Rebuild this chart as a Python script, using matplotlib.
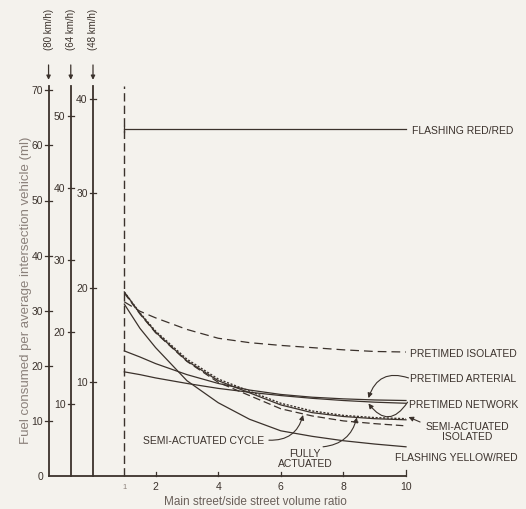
import numpy as np
import matplotlib.pyplot as plt

# main street / side street volume ratio where the curves were read
ratio = [1, 1.5, 2, 3, 4, 5, 6, 7, 8, 9, 10]

# fuel consumed (80 km/h scale)
flashing_red_red = [63.0, 63.0, 63.0, 63.0, 63.0, 63.0, 63.0, 63.0, 63.0, 63.0, 63.0]
pretimed_isolated = [31.6, 29.9, 28.7, 26.6, 25.0, 24.2, 23.7, 23.3, 22.9, 22.6, 22.5]
pretimed_arterial = [22.7, 21.6, 20.4, 18.4, 16.8, 15.6, 14.8, 14.3, 14.0, 13.8, 13.7]
pretimed_network = [18.9, 18.4, 17.8, 16.8, 15.9, 15.2, 14.6, 14.1, 13.7, 13.4, 13.2]
semi_act_isolated = [33.4, 29.6, 26.3, 21.2, 17.6, 15.4, 13.2, 11.8, 11.0, 10.6, 10.4]
semi_act_cycle = [33.4, 29.5, 26.1, 20.9, 17.3, 15.1, 12.9, 11.5, 10.8, 10.4, 10.2]
fully_actuated = [33.2, 29.4, 26.0, 20.8, 17.0, 14.6, 12.2, 10.9, 10.0, 9.5, 9.1]
flashing_yellow_red = [31.2, 26.8, 23.3, 17.3, 13.3, 10.3, 8.2, 7.2, 6.4, 5.8, 5.3]

# speed scales of the nomograph on the left
speed_labels = ['(80 km/h)', '(64 km/h)', '(48 km/h)']
scale_x = [-1.42, -0.71, 0.0]
scale_ticks = [[0, 10, 20, 30, 40, 50, 60, 70],
               [10, 20, 30, 40, 50],
               [10, 20, 30, 40]]
scale_factor = [1.0, 1.307, 1.71]

xticks = [2, 4, 6, 8, 10]

bg = '#f4f2ed'
ink = '#3b322c'
plt.rcParams['font.family'] = ['Liberation Sans', 'DejaVu Sans']

fig = plt.figure(figsize=(5.26, 5.10), dpi=100)
fig.patch.set_facecolor(bg)
ax = fig.add_axes([0, 0, 1, 1])
ax.set_facecolor(bg)
# pixel layout: x=0 at 93px, 31.3 px per unit; y=0 at 477px, 5.51 px per unit
ax.set_xlim(-93 / 31.3, (526 - 93) / 31.3)
ax.set_ylim(-33 / 5.51, 477 / 5.51)
ax.axis('off')

# nomograph scales
for i in range(3):
    x = scale_x[i]
    ax.plot([x, x], [0, 70.8], color=ink, lw=1.3)
    ax.annotate('', xy=(x, 71.9), xytext=(x, 74.6),
                arrowprops=dict(arrowstyle='-|>', color=ink, lw=0.9,
                                mutation_scale=6, shrinkA=0, shrinkB=0))
    ax.text(x, 81.3, speed_labels[i], rotation=90, ha='center', va='center',
            fontsize=7, color=ink)
    for t in scale_ticks[i]:
        y = t * scale_factor[i]
        if t > 0:
            ax.plot([x - 0.1, x + 0.1], [y, y], color=ink, lw=0.9)
        ax.text(x - 0.17, y, str(t), ha='right', va='center', fontsize=7.5, color=ink)

# bottom axis
ax.plot([scale_x[0], 10], [0, 0], color=ink, lw=1.3)
for t in xticks:
    h = 1.1 if t == 10 else 0.7
    ax.plot([t, t], [0, h], color=ink, lw=0.9)
    ax.text(t, -1.85, str(t), ha='center', va='center', fontsize=7.5, color=ink)
ax.text(1, -1.85, '1', ha='center', va='center', fontsize=5.5, color='#8a8079')
ax.text(5.2, -4.5, 'Main street/side street volume ratio', ha='center', va='center',
        fontsize=8.5, color='#6a605a')
ax.text(-2.13, 33.9, 'Fuel consumed per average intersection vehicle (ml)', rotation=90,
        ha='center', va='center', fontsize=9.5, color='#8a807a')

# ratio = 1 dashed line
ax.plot([1, 1], [0, 70.8], color=ink, lw=1.0, dashes=(6, 3))

# curves
ax.plot(ratio, flashing_red_red, color=ink, lw=0.9)
ax.plot([1, 1], [62.5, 63.5], color=ink, lw=0.9)
ax.plot(ratio, pretimed_isolated, color=ink, lw=0.9, dashes=(7, 4))
ax.plot(ratio, pretimed_arterial, color=ink, lw=0.9)
ax.plot(ratio, pretimed_network, color=ink, lw=0.9)
ax.plot(ratio, semi_act_cycle, color=ink, lw=0.9)
ax.plot(ratio, semi_act_isolated, color=ink, lw=1.0, dashes=(1.5, 1.2))
ax.plot(ratio, fully_actuated, color=ink, lw=0.9, dashes=(6, 3))
ax.plot(ratio, flashing_yellow_red, color=ink, lw=0.9)

fs = 7.5
ax.text(10.2, 62.8, 'FLASHING RED/RED', ha='left', va='center', fontsize=fs, color=ink)
ax.text(10.13, 22.3, 'PRETIMED ISOLATED', ha='left', va='center', fontsize=fs, color=ink)
ax.text(10.13, 17.8, 'PRETIMED ARTERIAL', ha='left', va='center', fontsize=fs, color=ink)
ax.text(10.1, 13.1, 'PRETIMED NETWORK', ha='left', va='center', fontsize=fs, color=ink)
ax.text(11.95, 8.2, 'SEMI-ACTUATED\nISOLATED', ha='center', va='center', fontsize=fs,
        color=ink, linespacing=1.0)
ax.text(9.65, 3.45, 'FLASHING YELLOW/RED', ha='left', va='center', fontsize=fs, color=ink)
ax.text(1.6, 6.5, 'SEMI-ACTUATED CYCLE', ha='left', va='center', fontsize=fs, color=ink)
ax.text(6.77, 3.3, 'FULLY\nACTUATED', ha='center', va='center', fontsize=fs,
        color=ink, linespacing=1.0)

arrow = dict(arrowstyle='-|>', color=ink, lw=0.8, mutation_scale=7, shrinkA=0, shrinkB=0)
ax.annotate('', xy=(8.8, np.interp(8.8, ratio, pretimed_arterial) + 0.3),
            xytext=(10.08, 17.8), arrowprops=dict(arrow, connectionstyle='arc3,rad=0.5'))
ax.annotate('', xy=(8.8, np.interp(8.8, ratio, pretimed_network) - 0.3),
            xytext=(10.05, 13.4), arrowprops=dict(arrow, connectionstyle='arc3,rad=-0.7'))
ax.annotate('', xy=(10.08, np.interp(10, ratio, semi_act_isolated) + 0.3),
            xytext=(10.45, 9.8), arrowprops=dict(arrow, connectionstyle='arc3,rad=0'))
ax.annotate('', xy=(6.71, np.interp(6.71, ratio, fully_actuated) - 0.2),
            xytext=(5.62, 6.5), arrowprops=dict(arrow, connectionstyle='arc3,rad=0.4'))
ax.annotate('', xy=(8.43, np.interp(8.43, ratio, semi_act_isolated) - 0.2),
            xytext=(7.35, 5.3), arrowprops=dict(arrow, connectionstyle='arc3,rad=0.35'))

fig.savefig('out.png', dpi=100, facecolor=bg)
